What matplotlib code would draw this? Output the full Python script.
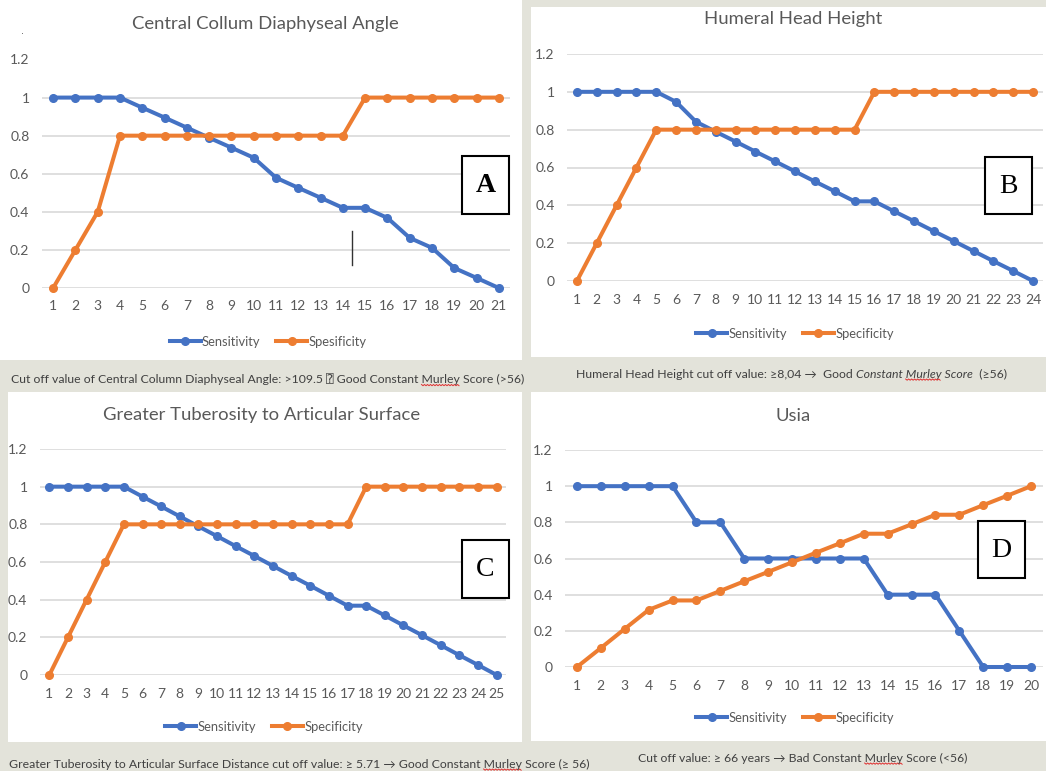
import numpy as np
import matplotlib
matplotlib.use("Agg")
import matplotlib.pyplot as plt
from matplotlib.patches import Rectangle
from matplotlib.lines import Line2D
from matplotlib.transforms import IdentityTransform

# data
sens_a = [1, 1, 1, 1, 0.947, 0.895, 0.842, 0.789, 0.737, 0.684, 0.579,
          0.526, 0.474, 0.421, 0.421, 0.368, 0.263, 0.211, 0.105, 0.053, 0]
spec_a = [0, 0.2, 0.4, 0.8, 0.8, 0.8, 0.8, 0.8, 0.8, 0.8, 0.8,
          0.8, 0.8, 0.8, 1, 1, 1, 1, 1, 1, 1]

sens_b = [1, 1, 1, 1, 1, 0.947, 0.842, 0.789, 0.737, 0.684, 0.632, 0.579,
          0.526, 0.474, 0.421, 0.421, 0.368, 0.316, 0.263, 0.211, 0.158, 0.105, 0.053, 0]
spec_b = [0, 0.2, 0.4, 0.6, 0.8, 0.8, 0.8, 0.8, 0.8, 0.8, 0.8, 0.8,
          0.8, 0.8, 0.8, 1, 1, 1, 1, 1, 1, 1, 1, 1]

sens_c = [1, 1, 1, 1, 1, 0.947, 0.895, 0.842, 0.789, 0.737, 0.684, 0.632, 0.579,
          0.526, 0.474, 0.421, 0.368, 0.368, 0.316, 0.263, 0.211, 0.158, 0.105, 0.053, 0]
spec_c = [0, 0.2, 0.4, 0.6, 0.8, 0.8, 0.8, 0.8, 0.8, 0.8, 0.8, 0.8, 0.8,
          0.8, 0.8, 0.8, 0.8, 1, 1, 1, 1, 1, 1, 1, 1]

sens_d = [1, 1, 1, 1, 1, 0.8, 0.8, 0.6, 0.6, 0.6, 0.6, 0.6, 0.6, 0.4, 0.4, 0.4, 0.2, 0, 0, 0]
spec_d = [0, 0.105, 0.211, 0.316, 0.368, 0.368, 0.421, 0.474, 0.526, 0.579, 0.632,
          0.684, 0.737, 0.737, 0.789, 0.842, 0.842, 0.895, 0.947, 1]

titles = ["Central Collum Diaphyseal Angle", "Humeral Head Height",
          "Greater Tuberosity to Articular Surface", "Usia"]
spec_labels = ["Spesificity", "Specificity", "Specificity", "Specificity"]
letters = ["A", "B", "C", "D"]
yticks = [0, 0.2, 0.4, 0.6, 0.8, 1, 1.2]
ytick_labels = ["0", "0.2", "0.4", "0.6", "0.8", "1", "1.2"]

BLUE = "#4472C4"
ORANGE = "#ED7D31"
BG = "#e3e3da"
GRID = "#d9d9d9"
TXT = "#595959"
CAP = "#404040"
FONT = ["Lato", "DejaVu Sans", "DejaVu Sans Mono", "Noto Sans"]

W, H = 1046, 771


def rect(x0, y0, x1, y1):
    # pixel box (top-left origin) -> figure fraction [l, b, w, h]
    return [x0 / W, 1 - y1 / H, (x1 - x0) / W, (y1 - y0) / H]


def fx(x):
    return x / W


def fy(y):
    return 1 - y / H


fig = plt.figure(figsize=(W / 100, H / 100), dpi=100, facecolor=BG)

panels = [
    dict(white=(0, 0, 522, 360), ax=(42, 59.5, 510, 288), title=(265, 24),
         legend=(268, 342), box=(462, 156, 509, 214), bold=True,
         sens=sens_a, spec=spec_a),
    dict(white=(531, 7, 1046, 357), ax=(567, 54, 1043, 281), title=(793, 19),
         legend=(795, 334), box=(985, 157, 1032, 214), bold=False,
         sens=sens_b, spec=spec_b),
    dict(white=(8, 392, 522, 742), ax=(40, 449, 506, 675), title=(262, 415),
         legend=(264, 727), box=(462, 540, 509, 598), bold=False,
         sens=sens_c, spec=spec_c),
    dict(white=(531, 392, 1046, 741), ax=(565, 450, 1043, 667), title=(793, 416),
         legend=(795, 718), box=(978, 521, 1025, 578), bold=False,
         sens=sens_d, spec=spec_d),
]

for i, p in enumerate(panels):
    l, b, w, h = rect(*p["white"])
    fig.patches.append(Rectangle((l, b), w, h, transform=fig.transFigure,
                                 facecolor="white", edgecolor="none", zorder=-5))

    ax = fig.add_axes(rect(*p["ax"]))
    ax.set_facecolor("none")
    n = len(p["sens"])
    x = np.arange(1, n + 1)
    l1, = ax.plot(x, p["sens"], color=BLUE, lw=2.9, marker="o", ms=5.5,
                  label="Sensitivity", clip_on=False, zorder=3)
    l2, = ax.plot(x, p["spec"], color=ORANGE, lw=2.9, marker="o", ms=5.5,
                  label=spec_labels[i], clip_on=False, zorder=3)
    ax.set_xlim(0.5, n + 0.5)
    ax.set_ylim(0, 1.2)
    ax.set_yticks(yticks)
    ax.set_yticklabels(ytick_labels)
    ax.set_xticks(x)
    ax.set_xticklabels([str(v) for v in x])
    ax.grid(axis="y", color=GRID, lw=1.2)
    ax.set_axisbelow(True)
    for s in ax.spines.values():
        s.set_visible(False)
    ax.tick_params(length=0, labelsize=10, labelcolor=TXT, pad=9)
    for lab in ax.get_xticklabels() + ax.get_yticklabels():
        lab.set_fontfamily(FONT)

    tx, ty = p["title"]
    fig.text(fx(tx), fy(ty), titles[i], ha="center", va="center",
             fontsize=13.3, color=TXT, family=FONT)

    lx, ly = p["legend"]
    fig.legend(handles=[l1, l2], loc="center", bbox_to_anchor=(fx(lx), fy(ly)),
               ncol=2, frameon=False, prop={"family": FONT, "size": 9.3},
               labelcolor=TXT, handlelength=2.4, handletextpad=0.1,
               columnspacing=1.2)

    bx0, by0, bx1, by1 = p["box"]
    bl, bb, bw, bh = rect(bx0, by0, bx1, by1)
    fig.patches.append(Rectangle((bl, bb), bw, bh, transform=fig.transFigure,
                                 facecolor="white", edgecolor="black", lw=1.5,
                                 zorder=5))
    fig.text(fx((bx0 + bx1) / 2), fy((by0 + by1) / 2 + 1), letters[i],
             ha="center", va="center", fontsize=20, family="Liberation Serif",
             fontweight="bold" if p["bold"] else "normal", zorder=6)

    if i == 0:
        # stray tick mark in the source image
        ax.plot([14.4, 14.4], [0.12, 0.30], color="#333333", lw=1)

last_ax = ax

# small stray dot top-left of panel A
fig.text(fx(23), fy(31), ".", fontsize=7, color=TXT, ha="center", va="center")

# captions
cap_kw = dict(fontsize=8.8, color=CAP, va="center", family=FONT)
cap_a = fig.text(fx(11), fy(379),
                 "Cut off value of Central Column Diaphyseal Angle: >109.5 \u2370 Good Constant Murley Score (>56)",
                 ha="left", **cap_kw)

t0 = fig.text(fx(576), fy(374),
              "Humeral Head Height cut off value: \u22658,04 \u2192  Good ",
              ha="left", **cap_kw)
cap_b = last_ax.annotate("Constant Murley Score", xy=(1, 0.5), xycoords=t0,
                         ha="left", fontstyle="italic", annotation_clip=False,
                         **cap_kw)
last_ax.annotate("  (\u226556)", xy=(1, 0.5), xycoords=cap_b, ha="left",
                 annotation_clip=False, **cap_kw)

cap_c = fig.text(fx(9), fy(764),
                 "Greater Tuberosity to Articular Surface Distance cut off value: \u2265 5.71 \u2192 Good Constant Murley Score (\u2265 56)",
                 ha="left", **cap_kw)
cap_d = fig.text(fx(638), fy(758),
                 "Cut off value: \u2265 66 years \u2192 Bad Constant Murley Score (<56)",
                 ha="left", **cap_kw)

# red spell-check squiggle under "Murley"
renderer = fig.canvas.get_renderer()


def squiggle(t, word="Murley"):
    s = t.get_text()
    k = s.index(word)
    bb = t.get_window_extent(renderer)
    tmp = fig.text(0, 0, s[:k], fontproperties=t.get_fontproperties())
    w0 = tmp.get_window_extent(renderer).width if k else 0
    tmp.set_text(s[:k + len(word)])
    w1 = tmp.get_window_extent(renderer).width
    tmp.remove()
    xs = np.arange(bb.x0 + w0, bb.x0 + w1, 1.5)
    ys = bb.y0 + 0.5 + np.where(np.arange(xs.size) % 2 == 0, 0, -1.2)
    fig.add_artist(Line2D(xs, ys, transform=IdentityTransform(),
                          color="#e03030", lw=0.7))


for t in (cap_a, cap_b, cap_c, cap_d):
    squiggle(t)

fig.savefig("out.png", dpi=100, facecolor=BG)
